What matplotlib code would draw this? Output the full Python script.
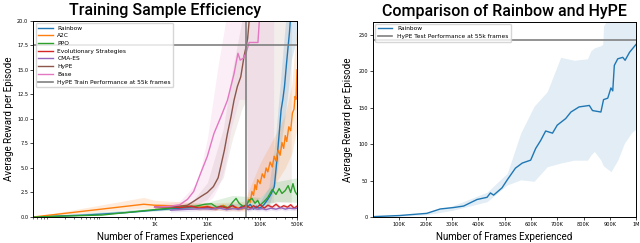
import matplotlib.pyplot as plt
from matplotlib.ticker import NullFormatter

# ---- left panel data (frames, reward) ----
rb_x = [5, 50, 300, 1000, 3000, 6000, 10000, 15000, 20000, 25000, 30000, 38000, 45000, 55000, 65000, 75000,
        85000, 95000, 105000, 120000, 140000, 160000, 186000, 210000, 230000, 250000, 270000, 290000, 315000,
        340000, 360000, 380000, 420000]
rb_y = [0.0, 0.2, 0.45, 0.7, 0.9, 1.0, 1.0, 0.85, 1.1, 0.9, 1.2, 0.8, 1.1, 0.9, 1.3, 0.8,
        1.1, 0.9, 1.0, 1.3, 1.8, 2.3, 3.1, 6.0, 8.5, 10.9, 12.0, 13.3, 15.5,
        17.4, 18.8, 20.5, 23.0]
rb_bx = [5, 1000, 10000, 100000, 150000, 200000, 250000, 300000, 350000, 400000, 500000]
rb_lo = [0.0, 0.6, 0.8, 0.7, 1.0, 3.5, 7.0, 10.0, 13.0, 16.0, 18.0]
rb_hi = [0.0, 0.8, 1.2, 1.4, 3.0, 8.0, 14.0, 19.0, 23.0, 25.0, 25.0]

a2c_x = [5, 620, 1000, 2000, 4000, 7000, 10000, 15000, 20000, 27000, 35000, 45000, 55000, 60000, 65000,
         70000, 75000, 80000, 85000, 90000, 100000, 110000, 120000, 130000, 140000, 155000, 170000, 185000,
         200000, 220000, 240000, 260000, 280000, 300000, 320000, 350000, 380000, 410000, 440000, 460000,
         480000, 500000]
a2c_y = [0.0, 1.3, 1.2, 1.15, 1.1, 1.0, 1.1, 0.8, 1.2, 0.8, 1.0, 0.8, 1.0, 1.8, 1.5,
         2.6, 2.2, 3.3, 2.8, 3.8, 3.4, 4.4, 4.0, 5.0, 4.6, 5.6, 5.1, 6.2,
         5.7, 6.8, 6.3, 7.6, 7.0, 8.3, 7.7, 9.2, 8.8, 10.6, 11.0, 12.3,
         12.0, 15.0]
a2c_bx = [5, 620, 1000, 10000, 50000, 100000, 200000, 300000, 400000, 500000]
a2c_lo = [0.0, 0.9, 0.9, 0.7, 0.6, 2.0, 3.5, 5.0, 6.5, 9.0]
a2c_hi = [0.0, 2.0, 1.7, 1.4, 1.6, 5.5, 8.5, 10.5, 13.5, 20.0]

ppo_x = [5, 100, 1000, 3000, 6000, 9000, 12000, 15000, 20000, 25000, 30000, 35000, 40000, 47000, 55000,
         62000, 70000, 80000, 90000, 100000, 120000, 140000, 170000, 200000, 230000, 260000, 300000,
         340000, 380000, 420000, 460000, 500000]
ppo_y = [0.0, 0.2, 0.75, 1.0, 1.1, 1.3, 1.35, 1.0, 1.1, 0.9, 1.5, 1.9, 1.4, 1.1, 1.2,
         1.7, 1.9, 1.4, 1.7, 1.2, 1.6, 2.0, 2.8, 2.3, 2.9, 2.4, 2.7,
         3.2, 2.5, 3.4, 2.6, 2.3]
ppo_bx = [5, 1000, 10000, 30000, 100000, 200000, 500000]
ppo_lo = [0.0, 0.6, 0.9, 1.0, 0.8, 1.6, 1.5]
ppo_hi = [0.0, 0.9, 1.5, 2.2, 2.0, 3.6, 4.0]

es_x = [1000, 2000, 3000, 5000, 7000, 10000, 14000, 18000, 23000, 30000, 38000, 46000, 55000, 65000,
        75000, 85000, 100000, 120000, 140000, 170000, 200000, 240000, 280000, 330000, 380000, 440000, 500000]
es_y = [1.0, 1.05, 0.95, 1.1, 0.9, 1.05, 0.85, 1.1, 0.9, 1.15, 0.85, 1.0, 1.2, 0.9,
        1.15, 0.95, 1.25, 0.9, 1.2, 1.0, 1.3, 0.95, 1.15, 1.0, 1.25, 0.9, 1.1]

cma_x = [2000, 3000, 5000, 8000, 12000, 17000, 23000, 30000, 40000, 50000, 60000, 75000, 90000, 110000,
         130000, 160000, 200000, 250000, 300000, 350000, 420000, 500000]
cma_y = [0.7, 0.75, 0.8, 0.85, 0.8, 0.9, 0.75, 0.85, 0.8, 0.95, 0.75, 0.9, 0.8, 0.85,
         0.75, 0.9, 0.8, 0.95, 0.8, 0.9, 0.85, 0.9]

hype_x = [1000, 2000, 3000, 4200, 5500, 7600, 10000, 13000, 16000, 18000, 21000, 24000, 28000, 32000,
          37000, 43000, 50000, 55000, 58000, 62000, 70000, 390000]
hype_y = [1.0, 1.05, 1.1, 1.2, 1.6, 2.1, 2.5, 3.1, 4.0, 5.2, 6.8, 8.5, 10.2, 11.9,
          13.3, 14.3, 16.5, 17.5, 18.2, 20.0, 21.0, 25.0]
hype_bx = [1000, 5000, 10000, 20000, 30000, 45000, 55000, 58000, 100000, 200000, 390000]
hype_lo = [0.9, 1.0, 1.8, 4.0, 8.0, 11.0, 12.0, 1.5, 1.5, 1.5, 1.5]
hype_hi = [1.1, 1.5, 3.5, 9.0, 15.0, 20.0, 25.0, 25.0, 25.0, 25.0, 25.0]

base_x = [1000, 2000, 3000, 4200, 5500, 7500, 10000, 13300, 18000, 24000, 32000, 38000, 42000, 48000,
          54000, 62000, 91000, 98000, 180000]
base_y = [1.0, 1.1, 1.25, 1.8, 2.6, 4.5, 6.2, 8.5, 10.2, 11.9, 14.6, 16.7, 16.0, 16.2,
          16.7, 17.8, 17.8, 20.5, 25.0]
base_bx = [1000, 3000, 6600, 10000, 12700, 16000, 20000, 23000, 28000, 40000, 55000, 58000, 100000, 180000]
base_lo = [0.8, 0.9, 1.0, 1.5, 2.0, 3.0, 4.5, 6.0, 9.0, 12.0, 12.0, 1.5, 1.5, 1.5]
base_hi = [1.3, 1.6, 3.6, 8.0, 11.8, 15.5, 18.5, 20.5, 25.0, 25.0, 25.0, 25.0, 25.0, 25.0]

hype_train_perf = 17.5
hype_frames = 55000

# ---- right panel data ----
r2_x = [0, 100000, 204000, 255000, 306000, 344000, 395000, 433000, 446000, 458000, 490000, 510000,
        541000, 567000, 599000, 618000, 637000, 656000, 682000, 700000, 732000, 752000, 783000, 822000,
        834000, 866000, 876000, 892000, 904000, 911000, 917000, 930000, 949000, 958000, 975000, 1000000]
r2_y = [0.5, 2, 5, 11, 13, 15, 24, 27, 33, 30, 40, 51,
        67, 74, 78, 94, 105, 118, 115, 126, 135, 144, 151, 153,
        146, 144, 161, 163, 177, 173, 208, 217, 219, 215, 226, 237]
r2_bx = [0, 100000, 200000, 300000, 433000, 510000, 561000, 612000, 662000, 713000, 764000, 815000,
         828000, 841000, 866000, 873000, 876000, 898000, 904000, 930000, 955000, 981000, 1000000]
r2_lo = [0, 1, 3, 9, 21, 44, 51, 49, 69, 74, 78, 78,
         85, 90, 78, 72, 70, 64, 62, 78, 101, 115, 121]
r2_hi = [1, 3, 6, 15, 34, 60, 115, 152, 172, 219, 215, 217,
         228, 232, 235, 237, 262, 275, 275, 275, 275, 275, 275]
hype_test_perf = 243

tick_font = 3.6
legend_font = 4.2
label_font = dict(family='Roboto', size=7)
title_font = dict(family='Roboto', size=11.5, weight='medium')

fig = plt.figure(figsize=(6.4, 2.43), dpi=100)
ax1 = fig.add_axes([0.052, 0.107, 0.412, 0.807])
ax2 = fig.add_axes([0.583, 0.107, 0.411, 0.804])

# left panel
series = [
    ('Rainbow', 'C0', rb_x, rb_y),
    ('A2C', 'C1', a2c_x, a2c_y),
    ('PPO', 'C2', ppo_x, ppo_y),
    ('Evolutionary Strategies', 'C3', es_x, es_y),
    ('CMA-ES', 'C4', cma_x, cma_y),
    ('HyPE', 'C5', hype_x, hype_y),
    ('Base', 'C6', base_x, base_y),
]
bands = [
    ('C6', base_bx, base_lo, base_hi, 0.12),
    ('C5', hype_bx, hype_lo, hype_hi, 0.1),
    ('C0', rb_bx, rb_lo, rb_hi, 0.15),
    ('C1', a2c_bx, a2c_lo, a2c_hi, 0.15),
    ('C2', ppo_bx, ppo_lo, ppo_hi, 0.15),
]
for color, bx, lo, hi, a in bands:
    ax1.fill_between(bx, lo, hi, color=color, alpha=a, lw=0)
ax1.fill_between(es_x, [v - 0.2 for v in es_y], [v + 0.2 for v in es_y], color='C3', alpha=0.15, lw=0)
ax1.fill_between(cma_x, [v - 0.2 for v in cma_y], [v + 0.2 for v in cma_y], color='C4', alpha=0.15, lw=0)

for name, color, x, y in series:
    ax1.plot(x, y, color=color, lw=1.0, label=name)
ax1.axhline(hype_train_perf, color='#808080', lw=1.2, label='HyPE Train Performance at 55k frames')
ax1.axvline(hype_frames, color='#808080', lw=1.2)

ax1.set_xscale('log')
ax1.set_xlim(5, 5e5)
ax1.set_ylim(0, 20)
ax1.set_xticks([1e3, 1e4, 1e5, 5e5], ['1K', '10K', '100K', '500K'])
ax1.xaxis.set_minor_formatter(NullFormatter())
ax1.set_yticks([0, 2.5, 5, 7.5, 10, 12.5, 15, 17.5, 20],
               ['0.0', '2.5', '5.0', '7.5', '10.0', '12.5', '15.0', '17.5', '20.0'])
ax1.set_title('Training Sample Efficiency', pad=4, **title_font)
ax1.set_xlabel('Number of Frames Experienced', labelpad=3, **label_font)
ax1.set_ylabel('Average Reward per Episode', labelpad=2, **label_font)
ax1.legend(loc='upper left', fontsize=legend_font, handlelength=2.5, borderaxespad=0.4, labelspacing=0.45)

# right panel
ax2.fill_between(r2_bx, r2_lo, r2_hi, color='C0', alpha=0.13, lw=0)
ax2.plot(r2_x, r2_y, color='C0', lw=1.0, label='Rainbow')
ax2.axhline(hype_test_perf, color='#808080', lw=1.2, label='HyPE Test Performance at 55k frames')
ax2.set_xlim(0, 1e6)
ax2.set_ylim(0, 268)
ax2.set_xticks([1e5 * i for i in range(1, 11)],
               ['100K', '200K', '300K', '400K', '500K', '600K', '700K', '800K', '900K', '1M'])
ax2.set_yticks([0, 50, 100, 150, 200, 250])
ax2.set_title('Comparison of Rainbow and HyPE', pad=4, **title_font)
ax2.set_xlabel('Number of Frames Experienced', labelpad=3, **label_font)
ax2.set_ylabel('Average Reward per Episode', labelpad=4, **label_font)
ax2.legend(loc='upper left', fontsize=legend_font, handlelength=2.5, borderaxespad=0.4)

for ax in (ax1, ax2):
    ax.tick_params(labelsize=tick_font, length=2, width=0.5, pad=1.5)
    ax.tick_params(which='minor', length=1.2, width=0.4)
    for s in ax.spines.values():
        s.set_linewidth(0.7)

fig.savefig('out.png', dpi=100)
